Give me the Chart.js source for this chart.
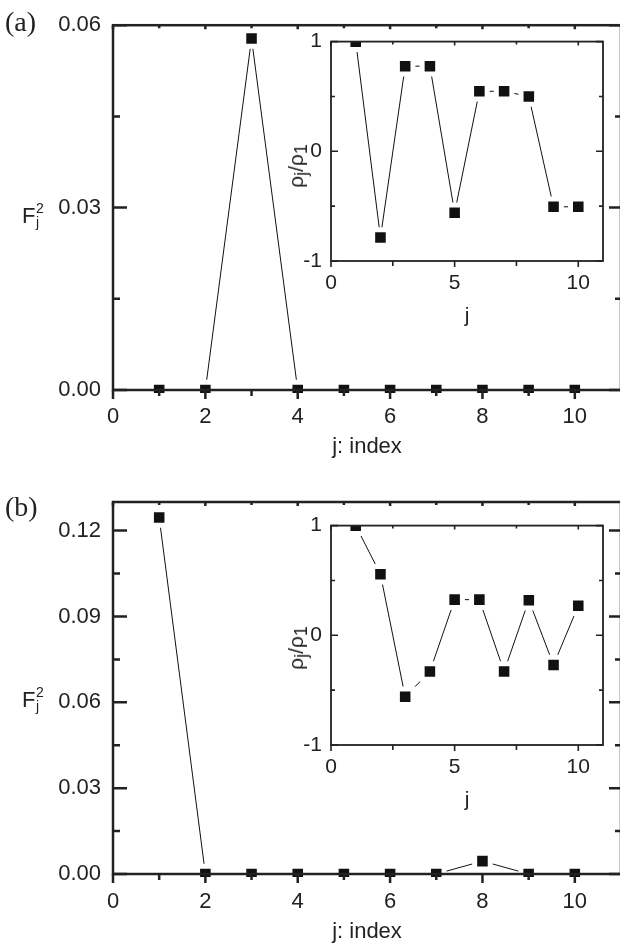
<!DOCTYPE html>
<html>
<head>
<meta charset="utf-8">
<title>F_j^2 and rho_j/rho_1 versus index</title>
<script src="https://cdn.jsdelivr.net/npm/chart.js@4.4.1/dist/chart.umd.min.js"></script>
<style>
  html, body { margin: 0; padding: 0; overflow: hidden; background: #fff; }
  body { position: relative; width: 620px; height: 946px; }
  canvas { position: absolute; }
  .txt { position: absolute; color: #222; line-height: 1; white-space: nowrap; }
  .panel { font: 28px "Liberation Serif", "DejaVu Serif", serif; }
  .fj { font: 22px "Liberation Sans", Arial, sans-serif; }
  .fj .s { position: absolute; left: 14px; font-size: 14px; }
  .rho { font: 21px "Liberation Sans", Arial, sans-serif; transform: translate(-50%, -50%) rotate(-90deg); }
  .rho sub { font-size: 85%; vertical-align: -0.22em; line-height: 0; }
</style>
</head>
<body>
<canvas id="mainA" width="640" height="470" style="left:0;top:0"></canvas>
<canvas id="mainB" width="640" height="476" style="left:0;top:470px"></canvas>
<canvas id="insetA" width="360" height="320" style="left:260px;top:20px"></canvas>
<canvas id="insetB" width="360" height="320" style="left:260px;top:504px"></canvas>

<div class="txt panel" style="left:5px;top:6px">(a)</div>
<div class="txt panel" style="left:5px;top:491px">(b)</div>
<div class="txt fj" style="left:22px;top:203px">F<span class="s" style="top:-3px">2</span><span class="s" style="top:11px">j</span></div>
<div class="txt fj" style="left:22px;top:687px">F<span class="s" style="top:-3px">2</span><span class="s" style="top:11px">j</span></div>
<div class="txt rho" style="left:296px;top:166px">ρ<sub>j</sub>/ρ<sub>1</sub></div>
<div class="txt rho" style="left:296px;top:648px">ρ<sub>j</sub>/ρ<sub>1</sub></div>

<script>
(function () {
  'use strict';

  /* ---- data ---- */
  var jIndex = [1, 2, 3, 4, 5, 6, 7, 8, 9, 10];

  var fA   = [0, 0, 0.0578, 0, 0, 0, 0, 0, 0, 0];
  var rhoA = [1.0, -0.785, 0.776, 0.776, -0.56, 0.547, 0.547, 0.50, -0.506, -0.506];

  var fB   = [0.1246, 0, 0, 0, 0, 0, 0, 0.0045, 0, 0];
  var rhoB = [1.0, 0.556, -0.56, -0.33, 0.325, 0.325, -0.33, 0.32, -0.27, 0.27];

  /* ---- axis ticks ---- */
  var mainXMajor = [0, 2, 4, 6, 8, 10];
  var mainXMinor = [1, 3, 5, 7, 9];
  var aYMajor = [0, 0.03, 0.06];
  var aYMinor = [0.015, 0.045];
  var bYMajor = [0, 0.03, 0.06, 0.09, 0.12];
  var bYMinor = [0.015, 0.045, 0.075, 0.105];
  var insetXMajor = [0, 5, 10];
  var insetXMinor = [2.5, 7.5];
  var insetYMajor = [-1, 0, 1];
  var insetYMinor = [-0.5, 0.5];

  var INK = '#222';
  var SANS = '"Liberation Sans", Arial, sans-serif';

  /* frame + inward/outward ticks, drawn from the chart's own scales */
  function frameTicks(c) {
    return {
      id: 'frameTicks',
      afterDatasetsDraw: function (chart) {
        var a = chart.chartArea, ctx = chart.ctx;
        var xs = chart.scales.x, ys = chart.scales.y;
        ctx.save();
        ctx.strokeStyle = INK;
        ctx.lineCap = 'butt';
        ctx.lineWidth = c.tickWidth;
        ctx.beginPath();
        function xt(vals, len) {
          vals.forEach(function (v) {
            var px = xs.getPixelForValue(v);
            ctx.moveTo(px, a.bottom); ctx.lineTo(px, a.bottom + len[0]);   // bottom: outward
            ctx.moveTo(px, a.top); ctx.lineTo(px, a.top + len[1]);         // top: inward
          });
        }
        function yt(vals, len) {
          vals.forEach(function (v) {
            var py = ys.getPixelForValue(v);
            ctx.moveTo(a.left, py); ctx.lineTo(a.left + len[0], py);       // left: inward
            ctx.moveTo(a.right, py); ctx.lineTo(a.right - len[1], py);     // right: inward
          });
        }
        xt(c.xMajor, c.xMajorLen);
        xt(c.xMinor, c.xMinorLen);
        yt(c.yMajor, c.yMajorLen);
        yt(c.yMinor, c.yMinorLen);
        ctx.stroke();
        ctx.lineWidth = c.frameWidth;
        ctx.lineJoin = 'miter';
        ctx.strokeRect(a.left, a.top, a.right - a.left, a.bottom - a.top);
        ctx.restore();
      }
    };
  }

  function setTicks(vals) {
    return function (scale) {
      scale.ticks = vals.map(function (v) { return { value: v }; });
    };
  }

  function build(id, o) {
    var pts = jIndex.map(function (j, i) { return { x: j, y: o.values[i] }; });
    return new Chart(document.getElementById(id), {
      type: 'line',
      data: {
        datasets: [{
          data: pts,
          borderColor: '#111',
          borderWidth: 1,
          pointStyle: 'rect',
          pointRadius: 11,
          pointBackgroundColor: '#111',
          pointBorderColor: '#fff',
          pointBorderWidth: 5,
          tension: 0,
          clip: o.clip
        }]
      },
      options: {
        responsive: false,
        animation: false,
        devicePixelRatio: 1,
        events: [],
        layout: { padding: o.pad },
        plugins: { legend: { display: false }, tooltip: { enabled: false } },
        scales: {
          x: {
            type: 'linear',
            min: o.xMin, max: o.xMax,
            afterBuildTicks: setTicks(o.xMajor),
            afterFit: function (s) { s.height = o.xHeight; },
            grid: { display: false, drawTicks: false },
            border: { display: false },
            ticks: {
              autoSkip: false, maxRotation: 0, padding: o.xPad,
              color: INK, font: { family: SANS, size: o.tickSize },
              callback: function (v) { return String(v); }
            },
            title: {
              display: true, text: o.xTitle, color: INK, padding: 0,
              font: { family: SANS, size: o.xTitleSize }
            }
          },
          y: {
            type: 'linear',
            min: o.yMin, max: o.yMax,
            afterBuildTicks: setTicks(o.yMajor),
            afterFit: function (s) { s.width = o.yWidth; },
            grid: { display: false, drawTicks: false },
            border: { display: false },
            ticks: {
              autoSkip: false, padding: o.yPad,
              color: INK, font: { family: SANS, size: o.tickSize },
              callback: o.yFmt
            },
            title: { display: false }
          }
        }
      },
      plugins: [frameTicks({
        xMajor: o.xMajor, xMinor: o.xMinor, yMajor: o.yMajor, yMinor: o.yMinor,
        xMajorLen: o.len.xMaj, xMinorLen: o.len.xMin,
        yMajorLen: o.len.yMaj, yMinorLen: o.len.yMin,
        frameWidth: o.frameWidth, tickWidth: o.tickWidth
      })]
    });
  }

  var mainLen = { xMaj: [9, 4], xMin: [6, 3], yMaj: [14, 12], yMin: [7, 6] };
  var insetLen = { xMaj: [6, 4], xMin: [5, 3], yMaj: [7, 7], yMin: [4, 4] };

  function fmt2(v) { return v.toFixed(2); }
  function fmt0(v) { return String(v); }

  build('mainA', {
    values: fA, xMin: 0, xMax: 11, yMin: 0, yMax: 0.06,
    xMajor: mainXMajor, xMinor: mainXMinor, yMajor: aYMajor, yMinor: aYMinor,
    pad: { left: 0, top: 18, right: 19, bottom: 10 },
    xHeight: 70, yWidth: 113, xPad: 14, yPad: 12,
    tickSize: 22, xTitle: 'j: index', xTitleSize: 22, yFmt: fmt2, clip: 3,
    len: mainLen, frameWidth: 2.5, tickWidth: 2.5
  });

  build('mainB', {
    values: fB, xMin: 0, xMax: 11, yMin: 0, yMax: 0.13,
    xMajor: mainXMajor, xMinor: mainXMinor, yMajor: bYMajor, yMinor: bYMinor,
    pad: { left: 0, top: 32, right: 19, bottom: 1 },
    xHeight: 71, yWidth: 113, xPad: 15, yPad: 12,
    tickSize: 22, xTitle: 'j: index', xTitleSize: 22, yFmt: fmt2, clip: 3,
    len: mainLen, frameWidth: 2.5, tickWidth: 2.5
  });

  [['insetA', rhoA], ['insetB', rhoB]].forEach(function (p) {
    build(p[0], {
      values: p[1], xMin: 0, xMax: 11, yMin: -1, yMax: 1,
      xMajor: insetXMajor, xMinor: insetXMinor, yMajor: insetYMajor, yMinor: insetYMinor,
      pad: { left: 23, top: 13, right: 17, bottom: 11 },
      xHeight: 68, yWidth: 48, xPad: 10, yPad: 9,
      tickSize: 21, xTitle: 'j', xTitleSize: 21, yFmt: fmt0, clip: 0,
      len: insetLen, frameWidth: 1.8, tickWidth: 1.6
    });
  });
})();
</script>
</body>
</html>
